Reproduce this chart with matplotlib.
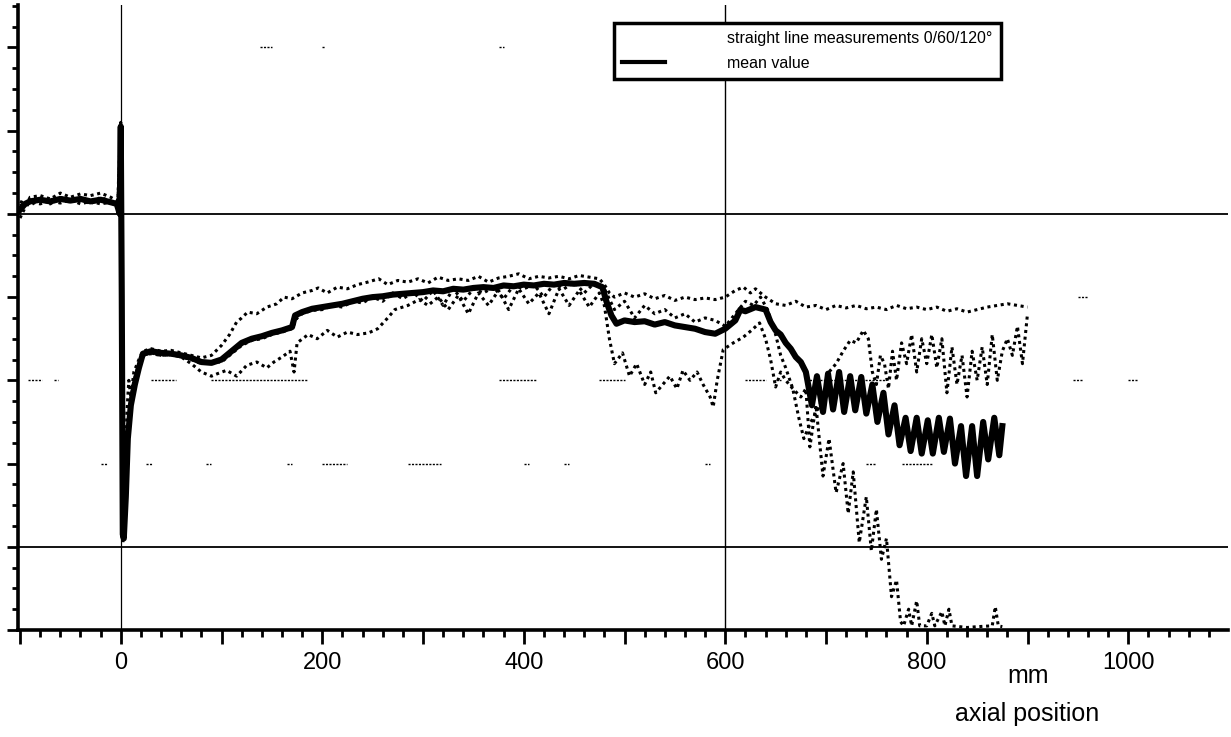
import matplotlib.pyplot as plt
from matplotlib.lines import Line2D
from matplotlib.ticker import MultipleLocator, FuncFormatter

plt.rcParams['font.family'] = ['Liberation Sans', 'DejaVu Sans']

# mean value (thick line)
x_mean = [-100, -95, -90, -80, -70, -60, -50, -40, -30, -20, -10, -4, -1, 0, 1, 2, 3, 5, 7, 10,
          14, 18, 22, 30, 40, 50, 60, 70, 80, 90, 100, 110, 120, 130, 140, 150, 160, 170, 173,
          180, 190, 200, 210, 220, 230, 240, 250, 260, 270, 280, 290, 300, 310, 320, 330, 340,
          350, 360, 370, 380, 390, 400, 410, 420, 430, 440, 450, 460, 470, 478, 482, 487, 492,
          500, 510, 520, 530, 540, 550, 560, 570, 580, 590, 600, 610, 615, 620, 630, 640, 645,
          650, 655, 660, 665, 670, 675, 680, 686, 691, 697, 702, 707, 713, 718, 724, 729, 735,
          740, 746, 751, 757, 762, 768, 773, 779, 784, 790, 795, 801, 806, 812, 817, 823, 828,
          834, 839, 845, 850, 856, 861, 867, 872, 875]
y_mean = [5.05, 5.12, 5.15, 5.17, 5.15, 5.18, 5.16, 5.18, 5.15, 5.17, 5.14, 5.12, 5.0, 6.05, 4.0,
          1.15, 1.1, 1.6, 2.3, 2.7, 2.95, 3.15, 3.32, 3.35, 3.33, 3.32, 3.30, 3.27, 3.22, 3.21,
          3.25, 3.35, 3.45, 3.50, 3.53, 3.57, 3.60, 3.64, 3.78, 3.82, 3.86, 3.88, 3.90, 3.92,
          3.95, 3.98, 4.00, 4.01, 4.03, 4.04, 4.05, 4.06, 4.08, 4.07, 4.10, 4.09, 4.11, 4.12,
          4.11, 4.14, 4.13, 4.15, 4.14, 4.16, 4.15, 4.17, 4.16, 4.17, 4.16, 4.12, 3.95, 3.78,
          3.68, 3.72, 3.70, 3.71, 3.67, 3.70, 3.66, 3.64, 3.62, 3.58, 3.56, 3.62, 3.72, 3.85,
          3.83, 3.88, 3.85, 3.70, 3.60, 3.55, 3.45, 3.38, 3.28, 3.22, 3.10, 2.70, 3.05, 2.62,
          3.08, 2.65, 3.10, 2.62, 3.05, 2.64, 3.04, 2.60, 2.95, 2.50, 2.85, 2.35, 2.70, 2.22,
          2.55, 2.15, 2.55, 2.12, 2.52, 2.12, 2.55, 2.14, 2.54, 2.00, 2.45, 1.85, 2.45, 1.85,
          2.50, 2.05, 2.55, 2.10, 2.45]

# straight line measurements (dotted), upper trace
x_a = [-100, -90, -80, -70, -60, -50, -40, -30, -20, -10, -3, 0, 1, 2, 4, 6, 8, 10, 13, 18, 22,
       30, 40, 50, 60, 70, 80, 90, 100, 108, 115, 120, 126, 135, 145, 155, 162, 170, 180, 190,
       196, 205, 215, 225, 235, 245, 256, 265, 275, 285, 295, 305, 315, 325, 335, 345, 355, 365,
       375, 385, 395, 405, 415, 425, 435, 445, 455, 465, 475, 480, 485, 490, 500, 510, 520, 530,
       540, 550, 560, 570, 580, 590, 600, 610, 618, 625, 630, 640, 650, 660, 670, 680, 690, 700,
       710, 720, 730, 740, 750, 760, 770, 780, 790, 800, 810, 820, 830, 840, 850, 860, 870, 880,
       890, 900]
y_a = [4.95, 5.2, 5.22, 5.18, 5.25, 5.2, 5.24, 5.22, 5.25, 5.2, 5.15, 6.1, 3.0, 1.3, 1.2, 2.6,
       3.0, 2.8, 3.1, 3.25, 3.35, 3.38, 3.35, 3.36, 3.33, 3.3, 3.27, 3.30, 3.42, 3.55, 3.70,
       3.75, 3.82, 3.80, 3.88, 3.92, 4.0, 3.98, 4.05, 4.08, 4.11, 4.05, 4.12, 4.1, 4.15, 4.18,
       4.22, 4.15, 4.2, 4.18, 4.22, 4.17, 4.24, 4.2, 4.22, 4.2, 4.25, 4.18, 4.23, 4.25, 4.28,
       4.22, 4.25, 4.23, 4.25, 4.22, 4.26, 4.24, 4.22, 4.15, 4.05, 4.0, 4.05, 4.0, 4.04, 3.98,
       4.02, 3.96, 4.0, 3.97, 3.99, 3.97, 4.0, 4.08, 4.12, 4.05, 4.1, 4.0, 3.92, 3.9, 3.95,
       3.88, 3.9, 3.85, 3.9, 3.87, 3.9, 3.86, 3.88, 3.85, 3.9, 3.86, 3.88, 3.85, 3.88, 3.83,
       3.86, 3.82, 3.85, 3.88, 3.9, 3.92, 3.9, 3.88]

# middle trace
x_b = [-100, -90, -80, -70, -60, -50, -40, -30, -20, -10, -3, 0, 1, 2, 4, 6, 9, 13, 18, 22, 30,
       40, 50, 60, 70, 80, 90, 100, 110, 120, 130, 140, 150, 160, 170, 175, 180, 190, 200, 210,
       220, 230, 240, 250, 260, 270, 280, 290, 300, 310, 320, 330, 340, 350, 360, 370, 380, 390,
       400, 410, 420, 430, 440, 450, 460, 470, 480, 490, 500, 510, 520, 530, 540, 550, 560, 570,
       580, 590, 600, 610, 620, 628, 635, 642, 650, 655, 660, 667, 673, 678, 685, 692, 698, 703,
       710, 717, 724, 730, 737, 742, 746, 750, 754, 758, 762, 766, 770, 775, 780, 785, 790, 795,
       800, 805, 810, 815, 820, 825, 830, 835, 840, 845, 850, 855, 860, 865, 870, 875, 880, 885,
       890, 895, 900]
y_b = [5.1, 5.15, 5.12, 5.16, 5.13, 5.17, 5.12, 5.15, 5.12, 5.14, 5.1, 6.0, 3.5, 1.1, 1.4, 2.2,
       2.7, 3.0, 3.2, 3.3, 3.33, 3.3, 3.31, 3.28, 3.25, 3.2, 3.22, 3.22, 3.32, 3.42, 3.48, 3.5,
       3.55, 3.58, 3.62, 3.75, 3.8, 3.84, 3.85, 3.9, 3.88, 3.95, 3.93, 4.0, 3.95, 4.05, 3.98,
       4.06, 3.95, 4.08, 3.9, 4.1, 3.95, 4.1, 4.05, 4.12, 3.98, 4.14, 4.1, 4.15, 4.0, 4.16,
       4.1, 4.18, 4.05, 4.17, 4.1, 3.85, 3.95, 3.75, 3.9, 3.8, 3.85, 3.75, 3.8, 3.7, 3.75, 3.72,
       3.65, 3.8, 3.95, 3.9, 4.0, 3.85, 3.55, 3.3, 3.15, 2.9, 2.55, 2.3, 2.5, 2.65, 2.85, 3.1,
       3.2, 3.35, 3.48, 3.45, 3.6, 3.5, 3.1, 2.95, 3.3, 3.2, 2.9, 3.35, 3.0, 3.45, 3.2, 3.55,
       3.1, 3.5, 3.2, 3.55, 3.15, 3.5, 2.85, 3.4, 2.95, 3.3, 2.8, 3.35, 3.0, 3.4, 2.95, 3.55,
       3.0, 3.35, 3.5, 3.3, 3.65, 3.2, 3.8]

# lower trace
x_c = [-100, -90, -80, -70, -60, -50, -40, -30, -20, -10, -3, 0, 1, 2, 4, 6, 9, 12, 16, 22, 30,
       40, 50, 60, 70, 80, 90, 96, 105, 115, 125, 135, 145, 152, 160, 168, 172, 175, 186, 195,
       205, 215, 225, 235, 246, 255, 265, 272, 285, 296, 305, 315, 325, 335, 345, 355, 365, 375,
       385, 395, 405, 415, 425, 435, 445, 455, 465, 475, 480, 485, 490, 498, 505, 512, 520, 526,
       531, 538, 545, 552, 558, 565, 572, 578, 585, 588, 592, 598, 608, 618, 626, 634, 640, 645,
       650, 655, 660, 667, 675, 680, 684, 690, 697, 703, 710, 717, 722, 727, 733, 740, 745, 750,
       755, 760, 765, 770, 774, 777, 782, 785, 790, 793, 800, 805, 808, 815, 818, 822, 825, 840,
       850, 865, 868, 871, 875]
y_c = [5.15, 5.1, 5.18, 5.12, 5.2, 5.14, 5.18, 5.12, 5.2, 5.15, 5.1, 5.8, 2.0, 1.05, 1.3, 2.2,
       2.6, 2.9, 3.1, 3.3, 3.32, 3.3, 3.31, 3.28, 3.2, 3.1, 3.05, 3.08, 3.12, 3.05, 3.18, 3.22,
       3.15, 3.22, 3.28, 3.35, 3.1, 3.45, 3.55, 3.5, 3.6, 3.52, 3.58, 3.55, 3.57, 3.62, 3.75,
       3.85, 3.9, 3.97, 3.9, 4.0, 3.85, 4.02, 3.8, 4.05, 3.9, 4.08, 3.85, 4.1, 3.92, 4.05, 3.8,
       4.1, 3.9, 4.08, 3.88, 4.05, 3.9, 3.5, 3.2, 3.33, 3.05, 3.2, 2.95, 3.1, 2.85, 2.95, 3.05,
       2.9, 3.12, 3.0, 3.1, 2.95, 2.8, 2.68, 3.0, 3.37, 3.45, 3.52, 3.6, 3.69, 3.5, 3.25, 2.92,
       3.1, 3.0, 2.9, 2.8, 2.9, 2.2, 2.7, 1.85, 2.3, 1.65, 2.0, 1.4, 1.9, 1.05, 1.6, 0.95, 1.45,
       0.85, 1.1, 0.4, 0.6, 0.1, 0.05, 0.25, 0.05, 0.35, 0.05, 0.05, 0.2, 0.05, 0.22, 0.05,
       0.25, 0.05, 0.03, 0.04, 0.05, 0.28, 0.05, 0.04]

# faint broken grid marks left over on the original plot (start, end in mm)
grid_y = [2, 3, 4, 7]
grid_marks = {
    2: [(-20, -14), (25, 31), (85, 90), (165, 170), (200, 225), (285, 318), (400, 405), (440, 445),
        (580, 585), (740, 750), (775, 805)],
    3: [(-92, -78), (-66, -62), (30, 55), (90, 185), (375, 412), (475, 500), (620, 640),
        (650, 655), (680, 760), (945, 955), (1000, 1010)],
    4: [(950, 960)],
    7: [(138, 150), (200, 203), (375, 380)],
}

fig = plt.figure(figsize=(12.31, 7.37), dpi=100)
ax = fig.add_axes([18 / 1231, 1 - 630 / 737, 1210 / 1231, 625 / 737])

ax.set_xlim(-102, 1099)
ax.set_ylim(0, 7.51)

# reference lines
ax.axhline(5, color='black', lw=1.3, zorder=1)
ax.axhline(1, color='black', lw=1.3, zorder=1)
ax.axvline(0, color='black', lw=0.9, zorder=1)
ax.axvline(600, color='black', lw=1.0, zorder=1)
for gy in grid_y:
    for x0, x1 in grid_marks[gy]:
        ax.plot([x0, x1], [gy, gy], color='black', lw=1.0, ls=(0, (1.5, 1)), zorder=1)

for xs, ys in [(x_a, y_a), (x_b, y_b), (x_c, y_c)]:
    ax.plot(xs, ys, color='black', lw=2.2, ls=(0, (1, 1.2)), zorder=2)
ax.plot(x_mean, y_mean, color='black', lw=4.4, solid_joinstyle='round', zorder=3)

# axes
for s in ['top', 'right']:
    ax.spines[s].set_visible(False)
for s in ['left', 'bottom']:
    ax.spines[s].set_linewidth(2.6)

ax.xaxis.set_major_locator(MultipleLocator(100))
ax.xaxis.set_minor_locator(MultipleLocator(20))
ax.xaxis.set_major_formatter(FuncFormatter(lambda v, p: '%d' % v if v >= 0 and int(round(v)) % 200 == 0 else ''))
ax.yaxis.set_major_locator(MultipleLocator(1))
ax.yaxis.set_minor_locator(MultipleLocator(0.25))
ax.yaxis.set_major_formatter(FuncFormatter(lambda v, p: ''))
ax.tick_params(axis='x', which='major', direction='out', length=10, width=2, labelsize=17, pad=6)
ax.tick_params(axis='x', which='minor', direction='out', length=5, width=2)
ax.tick_params(axis='y', which='major', direction='out', length=8, width=2)
ax.tick_params(axis='y', which='minor', direction='out', length=4, width=2)

fig.text(1028 / 1231, 1 - 676 / 737, 'mm', fontsize=18, ha='center', va='center')
fig.text(1027 / 1231, 1 - 714 / 737, 'axial position', fontsize=18, ha='center', va='center')

handles = [Line2D([], [], color='none'), Line2D([], [], color='black', lw=3)]
leg = ax.legend(handles, ['straight line measurements 0/60/120\u00b0', 'mean value'],
                loc='upper left', bbox_to_anchor=((614 - 18) / 1210, (630 - 23) / 625),
                fontsize=11.5, frameon=True, fancybox=False, framealpha=1,
                borderpad=0.5, labelspacing=0.6, handlelength=2.7, handletextpad=3.9,
                borderaxespad=0)
leg.get_frame().set_edgecolor('black')
leg.get_frame().set_linewidth(2.5)
leg.set_zorder(5)

fig.savefig('out.png', dpi=100)
